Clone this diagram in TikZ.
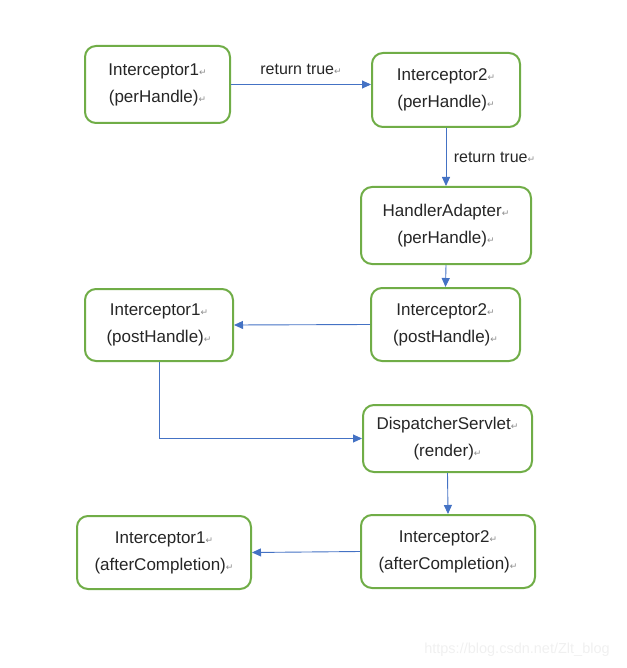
\documentclass[tikz,border=0pt]{standalone}
\usepackage{fontspec}
\setmainfont{Liberation Sans}
\newfontfamily\markfont{DejaVu Sans}
\usetikzlibrary{positioning,arrows.meta}
\definecolor{boxgreen}{RGB}{112,173,71}
\definecolor{flowblue}{RGB}{68,114,196}
\newcommand{\ret}{{\markfont\color{black!45}\fontsize{9}{9}\selectfont ↵}}
\tikzset{
  stage/.style={draw=boxgreen, line width=2pt, rounded corners=11pt, align=center,
    fill=white, font=\fontsize{17}{27}\selectfont, text=black!85, inner sep=0pt},
  flow/.style={-{Triangle[length=9pt,width=8pt]}, draw=flowblue, line width=0.9pt},
  note/.style={font=\fontsize{16}{16}\selectfont, text=black!85}
}

\begin{document}
\begin{tikzpicture}[x=1pt,y=-1pt]
\useasboundingbox (0,0) rectangle (626,668);
\node[stage, minimum width=145pt, minimum height=77pt] at (157.5,84.5) (preA) {Interceptor1\ret\\(perHandle)\ret};
\node[stage, minimum width=148pt, minimum height=74pt] at (446,90) (preB) {Interceptor2\ret\\(perHandle)\ret};
\node[stage, minimum width=170pt, minimum height=77pt] at (446,225.5) (adapter) {HandlerAdapter\ret\\(perHandle)\ret};
\node[stage, minimum width=149pt, minimum height=73pt] at (445.5,324.5) (postB) {Interceptor2\ret\\(postHandle)\ret};
\node[stage, minimum width=148pt, minimum height=72pt] at (159,325) (postA) {Interceptor1\ret\\(postHandle)\ret};
\node[stage, minimum width=169pt, minimum height=67pt] at (447.5,438.5) (render) {DispatcherServlet\ret\\(render)\ret};
\node[stage, minimum width=174pt, minimum height=73pt] at (448,551.5) (afterB) {Interceptor2\ret\\(afterCompletion)\ret};
\node[stage, minimum width=174pt, minimum height=73pt] at (164,552.5) (afterA) {Interceptor1\ret\\(afterCompletion)\ret};

\draw[flow] (preA.east) --node[note, above=6pt]{return true\ret} (preA.east -| preB.west);
\draw[flow] (preB.south) --node[note, right=4pt]{return true\ret} (adapter.north);
\draw[flow] (adapter.south) -- (postB.north);
\draw[flow] (postB.west) -- (postA.east);
\draw[flow] (postA.south) |- (render.west);
\draw[flow] (render.south) -- (afterB.north);
\draw[flow] (afterB.west) -- (afterA.east);

\node[text=black!6, font=\fontsize{14.5}{14.5}\selectfont] at (517,650) (mark) {https://blog.csdn.net/Zlt\_blog};
\end{tikzpicture}
\end{document}
